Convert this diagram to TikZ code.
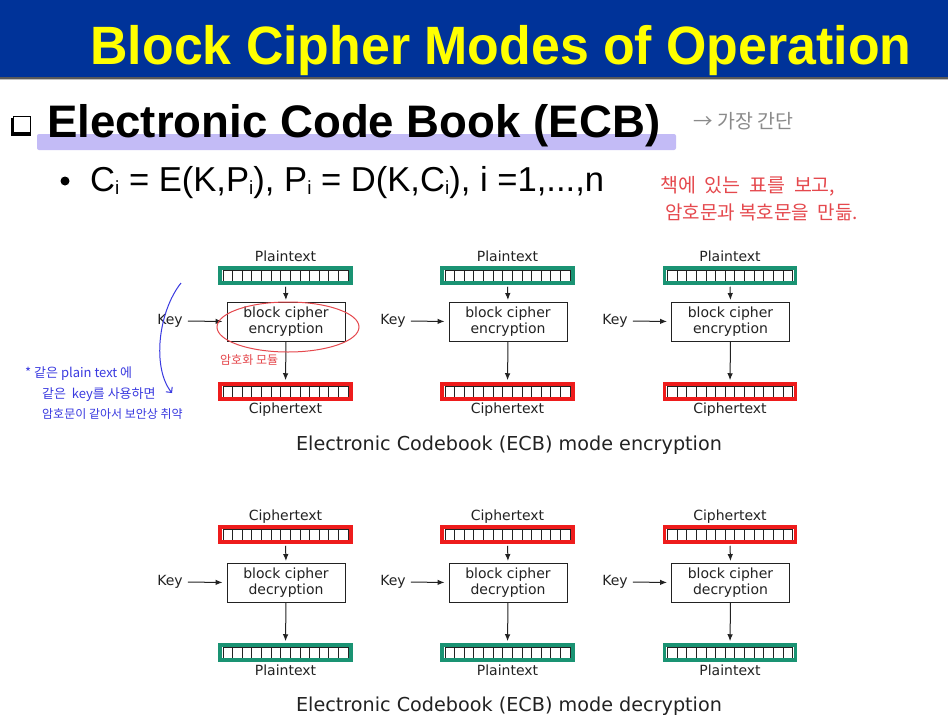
\documentclass[tikz,border=0pt]{standalone}
\usepackage{fontspec}
\setmainfont{Liberation Sans}
\newfontfamily\dejavu{DejaVu Sans}
\newfontfamily\kor{Noto Sans CJK KR}
\usetikzlibrary{arrows.meta,calc}

\definecolor{slideblue}{HTML}{003399}
\definecolor{titleyellow}{HTML}{FFFF00}
\definecolor{plaingreen}{HTML}{1A9373}
\definecolor{cipherred}{HTML}{EE1C1C}
\definecolor{marklav}{HTML}{C3BBF6}
\definecolor{penred}{HTML}{E5484D}
\definecolor{penblue}{HTML}{3A3AE0}
\definecolor{pengray}{HTML}{8A8A8A}
\definecolor{ink}{HTML}{222222}

% small subscript i used in the formula
\newcommand\subi{\raisebox{-3pt}{\fontsize{19}{19}\selectfont i}}

\begin{document}
\begin{tikzpicture}[x=1pt,y=-1pt,
  bar/.style={draw=#1, line width=3.5pt, fill=white, minimum width=131pt,
    minimum height=15pt, inner sep=0pt,
    path picture={
      \draw[ink, line width=0.75pt]
        ([shift={(-62.5pt,-5.5pt)}]path picture bounding box.center) rectangle
        ([shift={(62.5pt,5.5pt)}]path picture bounding box.center);
      \foreach \k in {1,...,12}{
        \draw[ink, line width=0.75pt]
          ([shift={({-62.5pt+\k*125pt/13},-5.5pt)}]path picture bounding box.center)
          -- ++(0pt,11pt);}
    }},
  cipherbox/.style={draw=ink, line width=0.9pt, minimum width=118pt,
    minimum height=39pt, align=center, inner sep=0pt, text=ink,
    font=\dejavu\fontsize{14}{16}\selectfont},
  lbl/.style={font=\dejavu\fontsize{14}{16}\selectfont, text=ink, inner sep=1pt},
  caption/.style={font=\dejavu\fontsize{19.2}{22}\selectfont, text=ink},
  flow/.style={-{Latex[length=7pt,width=5.5pt]}, line width=1pt, draw=ink},
  pen/.style={anchor=base west, inner sep=0pt}
]
\useasboundingbox (0,0) rectangle (948,726);
\fill[white] (0,0) rectangle (948,726);

% ---- title bar ----
\fill[slideblue] (0,0) rectangle (948,77);
\fill[black!65] (0,77) rectangle (948,79);
\fill[black!25] (0,79) rectangle (948,80);
\node[anchor=base, inner sep=0pt, text=titleyellow, xscale=0.96,
      font=\bfseries\fontsize{54}{60}\selectfont] (title) at (501,64)
  {Block Cipher Modes of Operation};

% ---- heading ----
\fill[marklav, rounded corners=2pt] (37,134) rectangle (676,150);
\fill[black] (11,118) rectangle (31,136);
\filldraw[fill=white, draw=black, line width=1pt] (13,116) rectangle (30,132);
\node[anchor=base west, inner sep=0pt, font=\bfseries\fontsize{45.6}{50}\selectfont]
  (heading) at (47,137) {Electronic Code Book (ECB)};
\node[pen, text=pengray, font=\kor\fontsize{19.5}{21}\selectfont] (simple) at (693,128)
  {→ 가장 간단};

% ---- formula ----
\fill[black] (65,181) circle (4.5);
\node[anchor=base west, inner sep=0pt, font=\fontsize{34.6}{38}\selectfont] (formula)
  at (90,191) {C\subi{} = E(K,P\subi), P\subi{} = D(K,C\subi), i =1,...,n};

\node[pen, text=penred, font=\kor\fontsize{19.5}{21}\selectfont] (note1) at (660,192)
  {책에 \ 있는 \ 표를 \ 보고,};
\node[pen, text=penred, font=\kor\fontsize{19}{21}\selectfont] (note2) at (665,219)
  {암호문과 복호문을 \ 만듦.};

% ---- ECB encryption ----
\foreach \c/\x/\kx in {1/285.5/170, 2/507.5/393, 3/730/615}{
  \node[lbl] (ptl\c) at (\x,256) {Plaintext};
  \node[bar=plaingreen] (pb\c) at (\x,275.5) {};
  \node[cipherbox] (enc\c) at (\x+0.5,321.5) {block cipher\\encryption};
  \node[bar=cipherred] (cb\c) at (\x,391.5) {};
  \node[lbl] (ctl\c) at (\x,410) {Ciphertext};
  \node[lbl] (key\c) at (\kx,321) {Key};
  \draw[flow, shorten <=2pt, shorten >=1.5pt] (pb\c.south) -- (enc\c.north);
  \draw[flow, shorten >=2pt] (enc\c.south) -- (cb\c.north);
  \draw[flow, shorten <=4pt, shorten >=4pt] (key\c.east) -- (enc\c.west);
}
\node[caption] (enccap) at (509,445) {Electronic Codebook (ECB) mode encryption};

% ---- ECB decryption ----
\foreach \c/\x/\kx in {1/285.5/170, 2/507.5/393, 3/730/615}{
  \node[lbl] (dctl\c) at (\x,517) {Ciphertext};
  \node[bar=cipherred] (dcb\c) at (\x,534.5) {};
  \node[cipherbox] (dec\c) at (\x+0.5,582.5) {block cipher\\decryption};
  \node[bar=plaingreen] (dpb\c) at (\x,652.5) {};
  \node[lbl] (dptl\c) at (\x,670) {Plaintext};
  \node[lbl] (dkey\c) at (\kx,582) {Key};
  \draw[flow, shorten <=2pt, shorten >=1.5pt] (dcb\c.south) -- (dec\c.north);
  \draw[flow, shorten >=2pt] (dec\c.south) -- (dpb\c.north);
  \draw[flow, shorten <=4pt, shorten >=4pt] (dkey\c.east) -- (dec\c.west);
}
\node[caption] (deccap) at (509,706) {Electronic Codebook (ECB) mode decryption};

% ---- pen annotations on the first encryption stage ----
\draw[penred, line width=1pt] (288,327) ellipse [x radius=71, y radius=25];
\node[pen, text=penred, font=\kor\fontsize{12}{14}\selectfont] (module) at (220,364)
  {암호화 모듈};

\coordinate (curvetop) at (181,283);
\coordinate (curvebot) at (172,393);
\draw[penblue, line width=1pt, -{Straight Barb[length=4pt]}]
  (curvetop) .. controls (158,312) and (152,368) .. (curvebot);
\node[pen, text=penblue, font=\kor\fontsize{13}{15}\selectfont] (warn1) at (25,377)
  {* 같은 plain text 에};
\node[pen, text=penblue, font=\kor\fontsize{13}{15}\selectfont] (warn2) at (42,398)
  {같은 \ key를 사용하면};
\node[pen, text=penblue, font=\kor\fontsize{12}{14}\selectfont] (warn3) at (42,418)
  {암호문이 같아서 보안상 취약};
\end{tikzpicture}
\end{document}
